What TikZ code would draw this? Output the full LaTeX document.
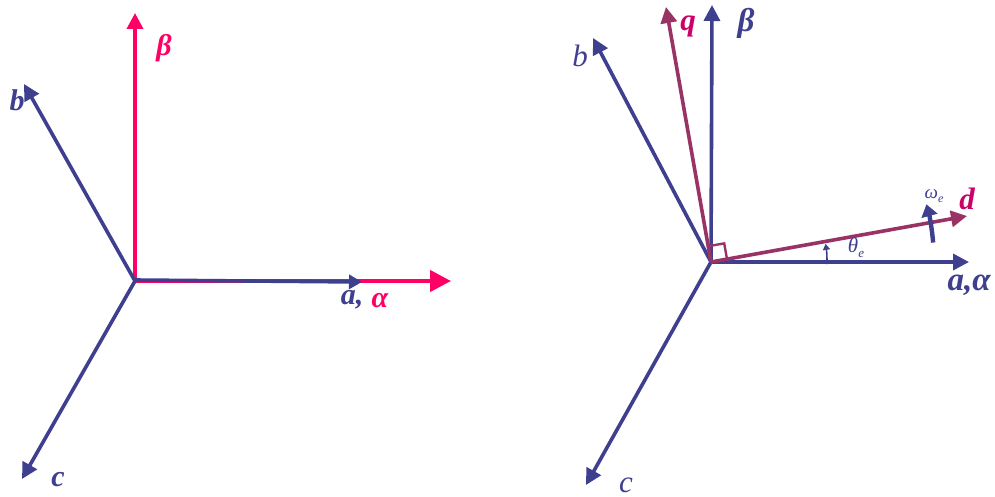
\documentclass[tikz,border=0pt]{standalone}
\usepackage{fontspec}
\setmainfont{Liberation Serif}
\usetikzlibrary{arrows.meta}
\definecolor{axblue}{HTML}{3F3F8F}
\definecolor{axred}{HTML}{FF0066}
\definecolor{axmaroon}{HTML}{993366}
\definecolor{lblmag}{HTML}{CC0066}
\begin{document}
\begin{tikzpicture}[x=1pt,y=-1pt,
  vec/.style={line width=3.6pt,-{Triangle[length=16pt,width=16pt]}},
  bigvec/.style={line width=4.2pt,-{Triangle[length=21pt,width=21pt]}},
  smallvec/.style={line width=3.6pt,-{Triangle[length=13pt,width=14pt]}},
  lblL/.style={font=\fontsize{30}{30}\selectfont\bfseries\itshape,inner sep=0pt},
  lblR/.style={font=\fontsize{31}{31}\selectfont\itshape,inner sep=0pt},
  lblRB/.style={font=\fontsize{33}{33}\selectfont\bfseries\itshape,inner sep=0pt},
  lblS/.style={font=\fontsize{21}{21}\selectfont\itshape,inner sep=0pt}]
\useasboundingbox (0,0) rectangle (995,497);
% ---------- left diagram ----------
\coordinate (O1) at (135,281);
\coordinate (Bt1) at (135,13);
\coordinate (Alt1) at (451,281);
\coordinate (At1) at (362,282);
\coordinate (bt1) at (24,84);
\coordinate (ct1) at (22,479);
\draw[bigvec,axred] (O1) -- (Alt1);
\draw[vec,axred] (O1) -- (Bt1);
\draw[smallvec,axblue] ([yshift=1pt]O1) -- (At1);
\draw[vec,axblue] (O1) -- (bt1);
\draw[vec,axblue] (O1) -- (ct1);
\node[lblL,text=axred] (lbeta1) at (164,48) {β};
\node[lblL,text=axblue] (lb1) at (17,100) {b};
\node[lblL,text=axblue] (lc1) at (58,480) {c};
\node[lblL,text=axblue] (la1) at (352,300) {a,};
\node[lblL,text=axred] (lal1) at (380,301) {α};
% ---------- right diagram ----------
\coordinate (O2) at (711,262);
\coordinate (Bt2) at (712,5);
\coordinate (At2) at (969,262);
\coordinate (bt2) at (593,38);
\coordinate (ct2) at (586,485);
\coordinate (qt2) at (666,7);
\coordinate (dt2) at (967,216);
\draw[vec,axblue] (O2) -- (Bt2);
\draw[vec,axblue] (O2) -- (At2);
\draw[vec,axblue] (O2) -- (bt2);
\draw[vec,axblue] (O2) -- (ct2);
\draw[vec,axmaroon] (O2) -- (qt2);
\draw[vec,axmaroon] (O2) -- (dt2);
% right-angle mark
\coordinate (sq1) at (727,259.2);
\coordinate (sq2) at (724.2,243.4);
\coordinate (sq3) at (708.2,246.2);
\draw[axmaroon,line width=2.4pt] (sq1) -- (sq2) -- (sq3);
% theta arc
\draw[axblue,line width=1.6pt,-{Triangle[length=6pt,width=7pt]}] (O2) ++(1:116) arc[start angle=1,end angle=-9,radius=116];
% omega arc
\draw[axblue,line width=4.4pt,-{Triangle[length=12pt,width=16pt]}] (O2) ++(-5:223) arc[start angle=-5,end angle=-15,radius=223];
\node[lblRB,text=axblue] (lbeta2) at (746,23) {β};
\node[lblRB,text=lblmag,font=\fontsize{31}{31}\selectfont\bfseries\itshape] (lq2) at (688,26) {q};
\node[lblR,text=axblue] (lb2) at (580,56) {b};
\node[lblRB,text=lblmag,font=\fontsize{31}{31}\selectfont\bfseries\itshape] (ld2) at (967,199) {d};
\node[lblRB,text=axblue] (la2) at (969,285) {a,α};
\node[lblR,text=axblue] (lc2) at (626,485) {c};
\node[lblS,text=axblue] (lth2) at (856,248) {θ\raisebox{-5pt}{\fontsize{13}{13}\selectfont e}};
\node[lblS,text=axblue,font=\fontsize{19}{19}\selectfont\itshape] (lom2) at (934,196) {ω\raisebox{-4pt}{\fontsize{12}{12}\selectfont e}};
\end{tikzpicture}
\end{document}
